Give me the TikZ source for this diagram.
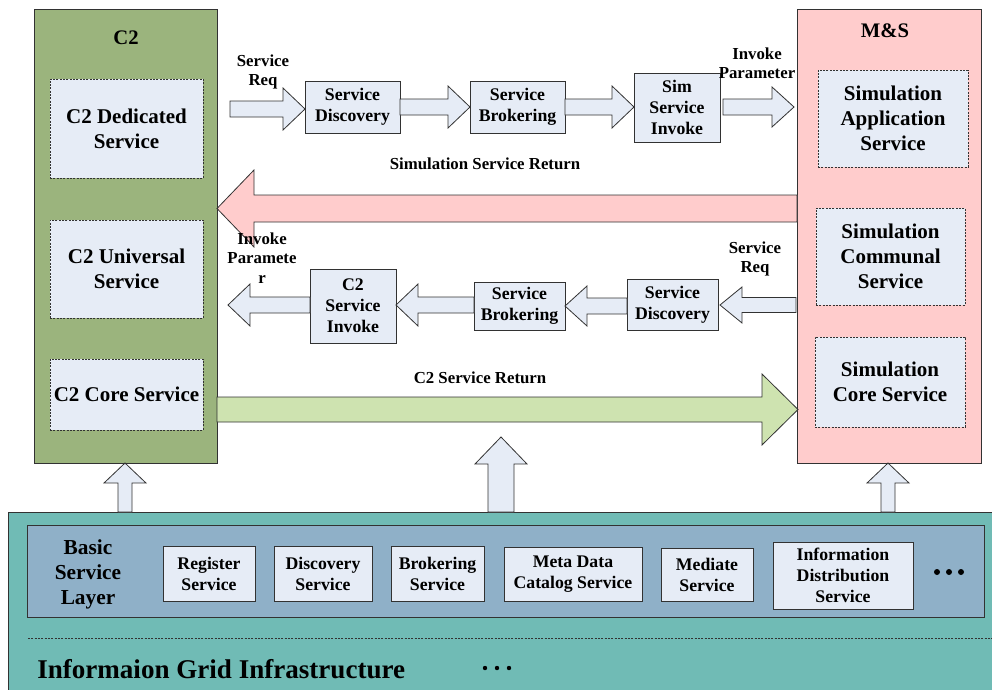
\documentclass[tikz,border=0pt]{standalone}
\usepackage{fontspec}
\setmainfont{Liberation Serif}
\usetikzlibrary{fit}

\definecolor{ctwo}{RGB}{155,180,125}
\definecolor{msred}{RGB}{255,204,204}
\definecolor{pale}{RGB}{230,236,246}
\definecolor{lgreen}{RGB}{206,227,176}
\definecolor{teal}{RGB}{112,187,181}
\definecolor{steel}{RGB}{143,176,200}
\definecolor{edge}{RGB}{50,50,50}

% horizontal block arrow: x1, x2 (tip), y, half body, half head, signed head length, style
\newcommand\harrow[7]{%
  \draw[#7] ({#1},{#3-#4}) -- ({#2-(#6)},{#3-#4}) -- ({#2-(#6)},{#3-#5})
    -- ({#2},{#3}) -- ({#2-(#6)},{#3+#5}) -- ({#2-(#6)},{#3+#4})
    -- ({#1},{#3+#4}) -- cycle;}
% vertical block arrow: x, y1, y2 (tip), half body, half head, signed head length, style
\newcommand\varrow[7]{%
  \draw[#7] ({#1-#4},{#2}) -- ({#1-#4},{#3-(#6)}) -- ({#1-#5},{#3-(#6)})
    -- ({#1},{#3}) -- ({#1+#5},{#3-(#6)}) -- ({#1+#4},{#3-(#6)})
    -- ({#1+#4},{#2}) -- cycle;}
% dashed service box and solid service box: corners, name, text
\newcommand\dbx[3]{\node[dbox, fit={#1}] (#2) {};
  \node[dtext] (#2-t) at (#2.center) {#3};}
\newcommand\sbx[3]{\node[sbox, fit={#1}] (#2) {};
  \node[stext] (#2-t) at (#2.center) {#3};}

\tikzset{
  every node/.style={inner sep=0pt, align=center},
  panel/.style={draw=edge, line width=0.7pt},
  dbox/.style={draw=edge, fill=pale, line width=0.5pt, dash pattern=on 1.6pt off 0.9pt},
  dtext/.style={font=\fontsize{15.75}{18.8}\selectfont\bfseries},
  sbox/.style={draw=edge, fill=pale, line width=0.7pt},
  stext/.style={font=\fontsize{13.3}{15.8}\selectfont\bfseries},
  lab/.style={font=\fontsize{12.6}{14.4}\selectfont\bfseries},
  ttl/.style={font=\fontsize{15.5}{18}\selectfont\bfseries},
  flow/.style={draw=edge, fill=pale, line width=0.6pt},
  retpink/.style={draw=edge, fill=msred, line width=0.6pt},
  retgreen/.style={draw=edge, fill=lgreen, line width=0.6pt},
}

\begin{document}
\begin{tikzpicture}[x=0.75pt, y=-0.75pt]
\useasboundingbox (0,0) rectangle (992,689);

% ---- infrastructure base ----
\node[panel, fill=teal, fit={(8,512) (1000,700)}] (grid) {};
\node[panel, fill=steel, fit={(27,525) (984,617)}] (basic) {};
\draw[edge, line width=0.6pt, dash pattern=on 1.6pt off 0.9pt] (28,638) coordinate (dl) -- (992,638) coordinate (dr);
\node[anchor=base west, font=\fontsize{20.3}{24}\selectfont\bfseries] (infra) at (37,678) {Informaion Grid Infrastructure};
\foreach \x in {485,497,509} \fill (\x,668) circle (2.2);

\node[font=\fontsize{16}{18.8}\selectfont\bfseries] (bsl) at (88,574) {Basic\\Service\\Layer};
\sbx{(163,546) (255,601)}{reg}{Register\\Service}
\sbx{(274,546) (372,601)}{disc}{Discovery\\Service}
\sbx{(391,546) (484,601)}{brok}{Brokering\\Service}
\sbx{(504,547) (642,601)}{meta}{Meta Data\\Catalog Service}
\sbx{(661,548) (753,601)}{med}{Mediate\\Service}
\sbx{(773,542) (913,609)}{info}{Information\\Distribution\\Service}
\foreach \x in {937,949,961} \fill (\x,572) circle (3);

% ---- C2 side ----
\node[panel, fill=ctwo, fit={(34,9) (217,463)}] (c2) {};
\node[ttl] (c2t) at (126,38) {C2};
\dbx{(50,79) (203,178)}{c2d}{C2 Dedicated\\Service}
\dbx{(50,220) (203,318)}{c2u}{C2 Universal\\Service}
\dbx{(50,359) (203,430)}{c2c}{C2 Core Service}

% ---- M&S side ----
\node[panel, fill=msred, fit={(797,9) (981,463)}] (ms) {};
\node[ttl] (mst) at (885,31) {M\&S};
\dbx{(818,70) (968,167)}{sapp}{Simulation\\Application\\Service}
\dbx{(816,208) (965,305)}{scom}{Simulation\\Communal\\Service}
\dbx{(815,337) (965,427)}{score}{Simulation\\Core Service}

% ---- request chain C2 -> M&S ----
\sbx{(305,81) (400,133)}{sd1}{Service\\Discovery}
\sbx{(470,81) (565,133)}{sb1}{Service\\Brokering}
\sbx{(634,73) (720,142)}{si1}{Sim\\Service\\Invoke}
\harrow{230}{305}{109}{8}{21}{22}{flow}
\harrow{400}{470}{107}{8}{21}{22}{flow}
\harrow{565}{634}{107}{8}{21}{22}{flow}
\harrow{723}{794}{107}{8}{20}{22}{flow}
\node[lab] (req1) at (263,72) {Service\\Req};
\node[lab] (par1) at (757,63) {Invoke\\Parameter};

% ---- simulation result back to C2 ----
\harrow{797}{217}{208.5}{13.5}{38.5}{-37}{retpink}
\node[lab] (simret) at (485,164) {Simulation Service Return};

% ---- request chain M&S -> C2 ----
\sbx{(627,279) (718,330)}{sd2}{Service\\Discovery}
\sbx{(474,282) (565,330)}{sb2}{Service\\Brokering}
\sbx{(310,269) (396,343)}{c2si}{C2\\Service\\Invoke}
\harrow{796}{720}{305}{7.5}{18}{-22}{flow}
\harrow{627}{565}{306}{8}{20}{-22}{flow}
\harrow{474}{396}{305}{8}{21}{-22}{flow}
\harrow{310}{228}{305}{8}{21}{-22}{flow}
\node[lab] (req2) at (755,259) {Service\\Req};
\node[lab] (par2) at (262,258) {Invoke\\Paramete\\r};

% ---- C2 result to M&S ----
\harrow{217}{798}{409.5}{12.5}{35.5}{36}{retgreen}
\node[lab] (c2ret) at (480,378) {C2 Service Return};

% ---- support from the grid ----
\varrow{125}{512}{463}{7}{21}{-20}{flow}
\varrow{501}{512}{437}{13}{26}{-27}{flow}
\varrow{888}{512}{463}{7}{21}{-20}{flow}
\end{tikzpicture}
\end{document}
